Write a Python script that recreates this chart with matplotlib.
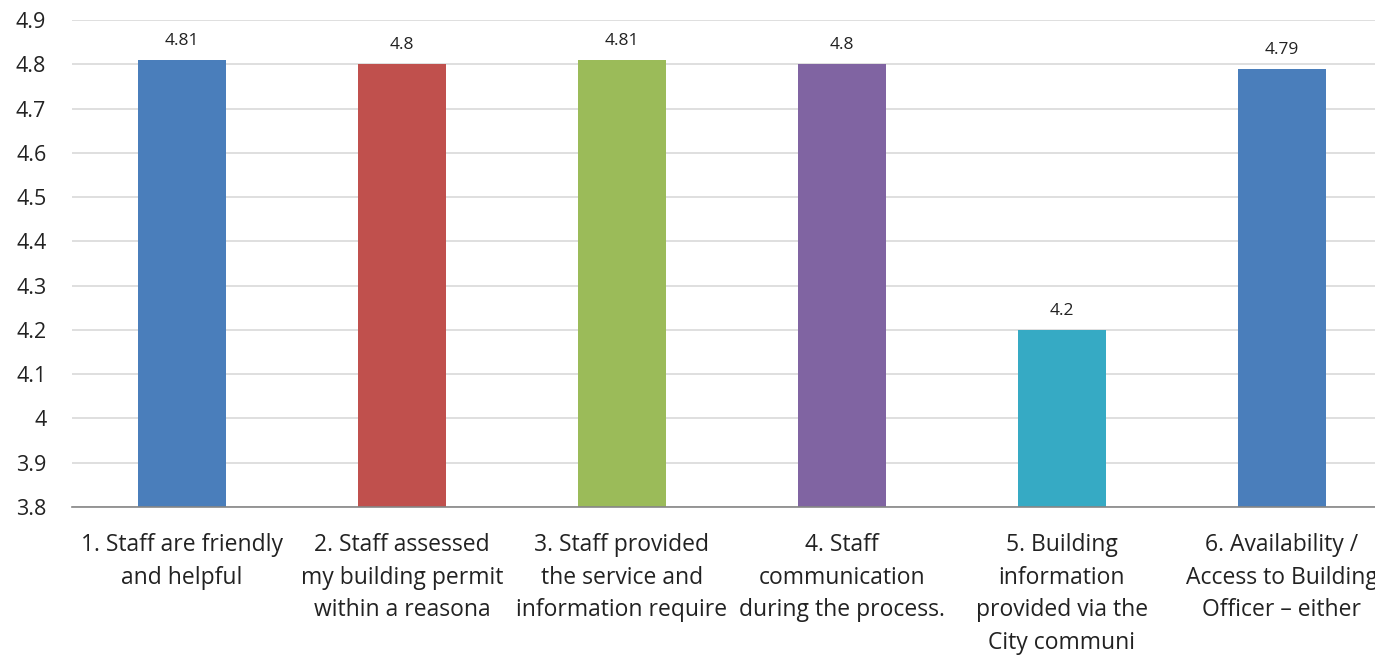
import matplotlib
matplotlib.use("Agg")
import matplotlib.pyplot as plt

plt.rcParams['font.family'] = ['Open Sans', 'DejaVu Sans']

categories = [
    "1. Staff are friendly\nand helpful",
    "2. Staff assessed\nmy building permit\nwithin a reasona",
    "3. Staff provided\nthe service and\ninformation require",
    "4. Staff\ncommunication\nduring the process.",
    "5. Building\ninformation\nprovided via the\nCity communi",
    "6. Availability /\nAccess to Building\nOfficer \u2013 either",
]
scores = [4.81, 4.8, 4.81, 4.8, 4.2, 4.79]
score_labels = ["4.81", "4.8", "4.81", "4.8", "4.2", "4.79"]
colors = ["#4A7EBB", "#C0504D", "#9BBB59", "#8064A2", "#36AAC4", "#4A7EBB"]
yticks = [3.8, 3.9, 4.0, 4.1, 4.2, 4.3, 4.4, 4.5, 4.6, 4.7, 4.8, 4.9]
ytick_labels = ["3.8", "3.9", "4", "4.1", "4.2", "4.3", "4.4", "4.5", "4.6", "4.7", "4.8", "4.9"]

fig = plt.figure(figsize=(13.75, 6.55), dpi=100)
ax = fig.add_axes([72 / 1375, 148 / 655, 1320 / 1375, 487 / 655])

x = list(range(len(categories)))
ax.bar(x, [s - 3.8 for s in scores], bottom=3.8, width=0.4, color=colors, zorder=3)

for xi, s, lab in zip(x, scores, score_labels):
    ax.annotate(lab, (xi, s), xytext=(0, 8), textcoords="offset points",
                ha="center", va="bottom", fontsize=12.5, color="#222222")

ax.set_xlim(-0.5, 5.5)
ax.set_ylim(3.8, 4.9)
ax.set_yticks(yticks)
ax.set_yticklabels(ytick_labels)
ax.set_xticks(x)
ax.set_xticklabels([])
# category labels drawn as text so the line spacing can be set
for xi, cat in zip(x, categories):
    ax.text(xi, -0.054, cat, transform=ax.get_xaxis_transform(), ha="center",
            va="top", fontsize=16.5, linespacing=1.47, color="#222222")
ax.tick_params(axis="y", length=0, pad=18.5, labelsize=15.5, labelcolor="#222222")
ax.tick_params(axis="x", length=0)
ax.grid(axis="y", color="#D9D9D9", linewidth=1.2, zorder=0)

for side in ["top", "right", "left"]:
    ax.spines[side].set_visible(False)
ax.spines["bottom"].set_color("#868686")
ax.spines["bottom"].set_linewidth(1.2)
ax.spines["bottom"].set_zorder(4)

fig.savefig("out.png", dpi=100)
